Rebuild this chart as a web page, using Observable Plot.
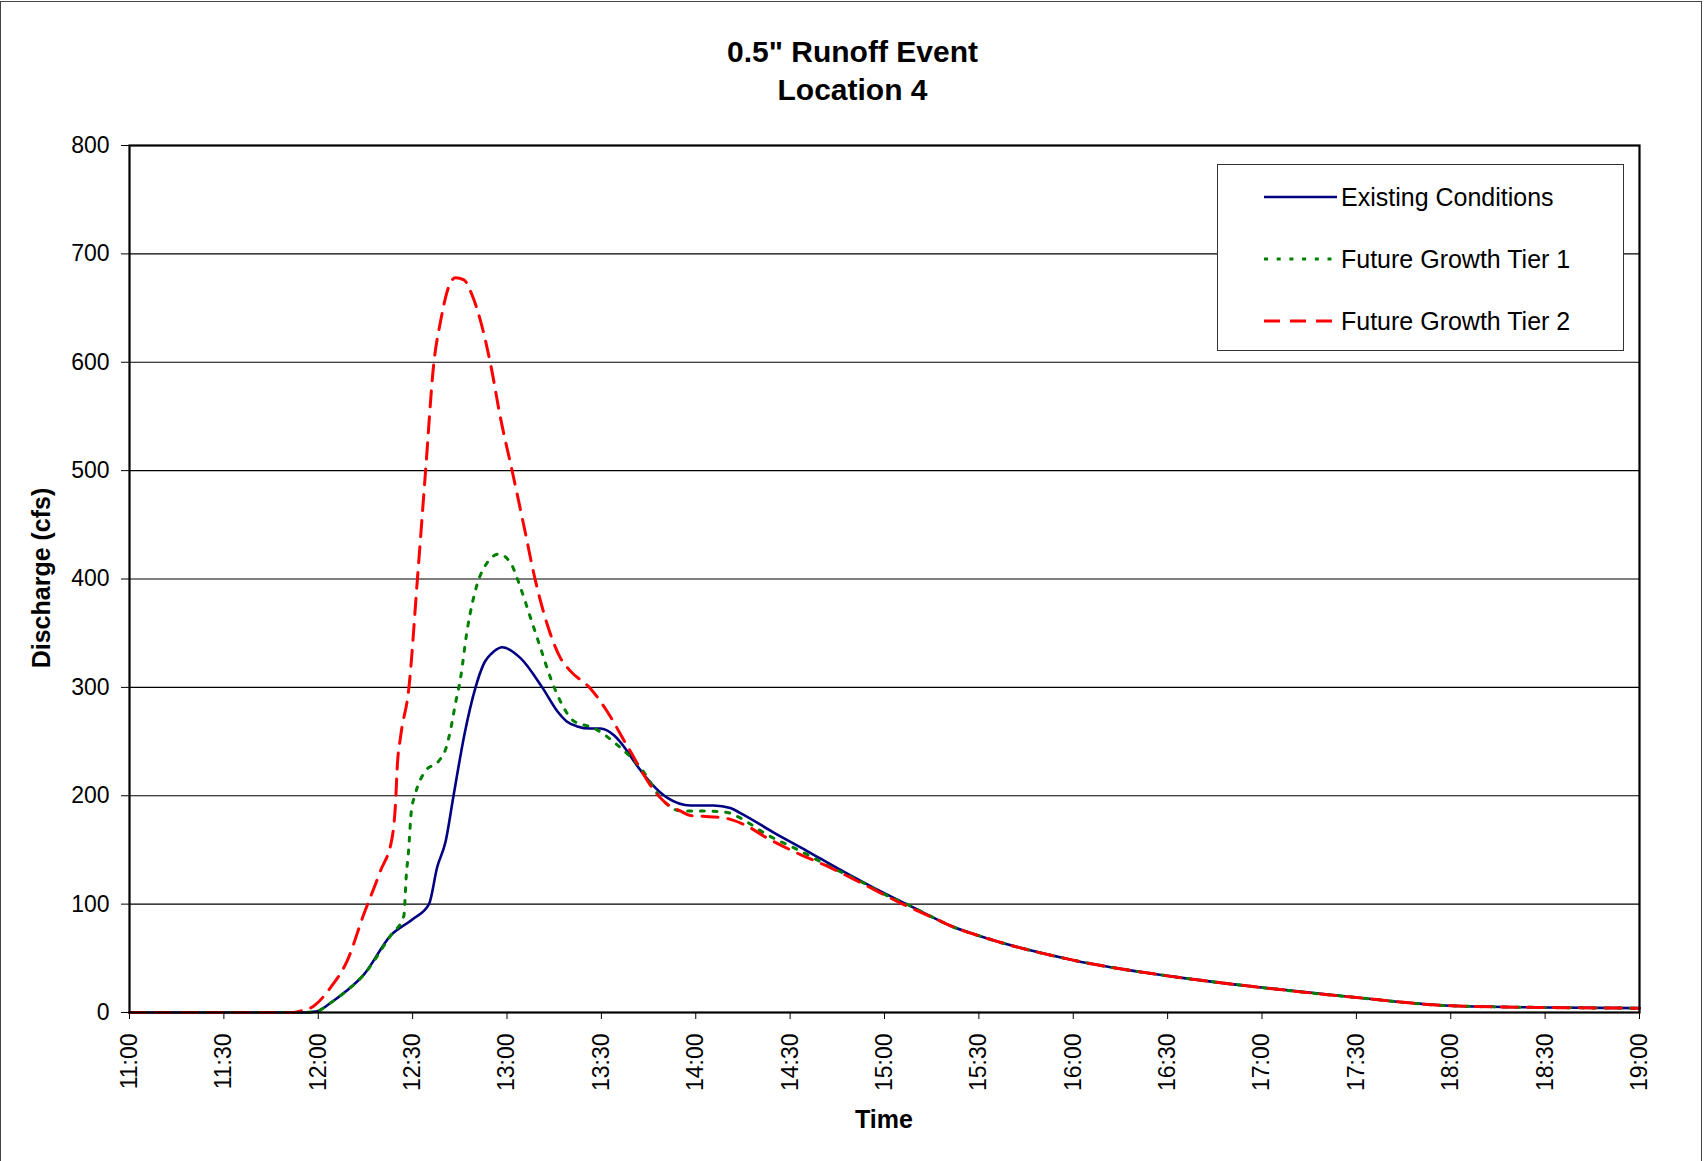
<!DOCTYPE html>
<html>
<head>
<meta charset="utf-8">
<script src="https://cdn.jsdelivr.net/npm/d3@7"></script>
<script src="https://cdn.jsdelivr.net/npm/@observablehq/plot@0.6"></script>
<style>
  html, body { margin: 0; padding: 0; background: #fff; }
  #wrap { position: relative; width: 1705px; height: 1161px; overflow: hidden; font-family: "Liberation Sans", Arial, sans-serif; }
  #border { position: absolute; left: 0; top: 1px; width: 1702px; height: 1300px; border: 1.5px solid #444; box-sizing: border-box; }
  #title { position: absolute; left: 0; top: 33px; width: 1705px; text-align: center; font-weight: bold; font-size: 30px; line-height: 38px; color: #000; }
  #ylabel { position: absolute; left: 41px; top: 578px; transform: translate(-50%, -50%) rotate(-90deg); font-weight: bold; font-size: 25px; white-space: nowrap; }
  #xlabel { position: absolute; left: 884px; top: 1119px; transform: translate(-50%, -50%); font-weight: bold; font-size: 25px; }
  #legend { position: absolute; left: 1217px; top: 164px; width: 407px; height: 187px; border: 1.2px solid #333; background: #fff; box-sizing: border-box; }
  .lg-row { position: absolute; left: 0; height: 30px; display: flex; align-items: center; font-size: 25px; }
  .lg-row svg { margin-left: 46px; margin-right: 4px; }
  #chart { position: absolute; left: 0; top: 0; }
</style>
</head>
<body>
<div id="wrap">
  <div id="border"></div>
  <div id="chart"></div>
  <div id="title"></div>
  <div id="ylabel"></div>
  <div id="xlabel"></div>
  <div id="legend"></div>
</div>
<script>
// ---- Data ----
const titleLines = ["0.5\" Runoff Event", "Location 4"];
const yLabel = "Discharge (cfs)";
const xLabel = "Time";
const seriesNames = ["Existing Conditions", "Future Growth Tier 1", "Future Growth Tier 2"];
const seriesColors = ["#000080", "#008000", "#ff0000"];
const yTicks = [0, 100, 200, 300, 400, 500, 600, 700, 800];
const xTickLabels = ["11:00","11:30","12:00","12:30","13:00","13:30","14:00","14:30","15:00","15:30","16:00","16:30","17:00","17:30","18:00","18:30","19:00"];

const tailTimes = ["15:17:48","15:21:00","15:30:00","16:00:00","16:30:00","17:00:00","17:30:00","18:00:00","18:30:00","19:00:00"];
const tailQ = [84.3, 80, 70.8, 48.3, 33.8, 23, 13.8, 6.2, 4.6, 4];

const existingTimes = ["11:00:00","11:55:00","11:58:00","12:00:00","12:04:00","12:09:00","12:14:30","12:23:00","12:30:00","12:35:12","12:37:48","12:40:30","12:43:00","12:46:30","12:50:00","12:52:30","12:55:48","12:58:30","13:04:18","13:11:12","13:16:00","13:19:00","13:22:18","13:26:30","13:29:42","13:33:54","13:38:00","13:40:18","13:51:00","13:58:18","14:05:42","14:11:00","14:14:12","14:24:48","14:35:24","14:46:00","14:56:36","15:07:12"];
const existingQ = [0,0,0.5,1.5,9,20,35,71,86,100,134,158,200,257,300,321,333,337,327,300,278,268.6,264,262,262,256,242,232,198,191,191,188.6,184,166,149,131.5,115,99.7];

const tier1Times = ["11:00:00","11:55:00","11:58:00","12:00:00","12:04:00","12:09:00","12:14:30","12:23:00","12:27:12","12:28:00","12:28:42","12:29:36","12:30:42","12:34:06","12:38:18","12:40:30","12:42:00","12:43:36","12:45:12","12:47:18","12:50:30","12:53:42","12:57:24","13:01:06","13:04:18","13:07:30","13:10:42","13:13:48","13:17:00","13:21:12","13:27:36","13:35:00","13:42:24","13:49:48","13:55:06","14:01:30","14:10:00","14:13:06","14:22:42","14:33:18","14:43:00","14:52:24","15:00:00","15:07:12"];
const tier1Q = [0,0,0.5,1.5,9,20,35,71,89,127,149,186,200,223,232,243,260,285,308,352,395,415,423,415,392,364,336,309,287,269,262.5,247,226,195,186,186,184.6,181,164,149,134,121,109,99.7];

const tier2Times = ["11:00:00","11:52:00","11:54:24","11:58:36","12:03:54","12:09:12","12:14:30","12:19:48","12:23:30","12:24:36","12:25:06","12:26:12","12:28:48","12:31:30","12:34:06","12:36:42","12:38:54","12:41:00","12:43:36","12:46:18","12:48:54","12:51:36","12:54:48","12:57:54","13:01:42","13:05:18","13:09:00","13:12:48","13:17:00","13:20:12","13:26:30","13:31:48","13:38:12","13:47:42","13:51:00","13:55:06","13:58:18","14:02:24","14:08:54","14:15:18","14:22:42","14:33:18","14:41:48","14:52:24","15:05:06"];
const tier2Q = [0,0,1.5,6,23,47.7,90.8,130.8,161.5,195,226,255,299,399,499,598,638,665.5,678,676,662,638,598,549,499,450,399,358,327,315,299,278,246,201.5,192,186,181.7,181,179.6,173.5,161,145.7,135,119.8,101];

// ---- Build ----
const parseT = d3.utcParse("%H:%M:%S");
const parseHM = d3.utcParse("%H:%M");
function build(times, q) {
  const rows = times.map((t, i) => ({time: parseT(t), q: q[i]}));
  tailTimes.forEach((t, i) => rows.push({time: parseT(t), q: tailQ[i]}));
  return rows;
}
const existing = build(existingTimes, existingQ);
const tier1 = build(tier1Times, tier1Q);
const tier2 = build(tier2Times, tier2Q);
const xTicks = xTickLabels.map(parseHM);

const dashes = [null, "4,8.7", "16,10"];
const widths = [2.6, 3, 3];

const chart = Plot.plot({
  width: 1705,
  height: 1161,
  marginLeft: 129,
  marginRight: 66,
  marginTop: 145,
  marginBottom: 149,
  style: {fontFamily: "'Liberation Sans', Arial, sans-serif", fontSize: "23px", color: "#000", background: "transparent"},
  x: {type: "utc", domain: [xTicks[0], xTicks[xTicks.length - 1]]},
  y: {domain: [0, 800]},
  marks: [
    Plot.gridY(yTicks, {stroke: "#000", strokeOpacity: 1, strokeWidth: 1.1}),
    Plot.line(existing, {x: "time", y: "q", stroke: seriesColors[0], strokeWidth: widths[0], curve: "monotone-x"}),
    Plot.line(tier1, {x: "time", y: "q", stroke: seriesColors[1], strokeWidth: widths[1], strokeDasharray: dashes[1], curve: "monotone-x"}),
    Plot.line(tier2, {x: "time", y: "q", stroke: seriesColors[2], strokeWidth: widths[2], strokeDasharray: dashes[2], curve: "monotone-x"}),
    Plot.frame({stroke: "#000", strokeWidth: 2.2}),
    Plot.axisY(yTicks, {tickSize: 8, tickPadding: 12, label: null, stroke: "#000"}),
    Plot.axisX(xTicks, {tickSize: 7, tickPadding: 14, tickRotate: -90, tickFormat: d3.utcFormat("%H:%M"), label: null, stroke: "#000"})
  ]
});
document.getElementById("chart").appendChild(chart);

document.getElementById("title").innerHTML = titleLines.map(s => s.replace(/"/g, "&quot;")).join("<br>");
document.getElementById("ylabel").textContent = yLabel;
document.getElementById("xlabel").textContent = xLabel;

const legend = document.getElementById("legend");
const rowTops = [17, 79, 141];
seriesNames.forEach((name, i) => {
  const row = document.createElement("div");
  row.className = "lg-row";
  row.style.top = rowTops[i] + "px";
  const ns = "http://www.w3.org/2000/svg";
  const svg = document.createElementNS(ns, "svg");
  svg.setAttribute("width", 73);
  svg.setAttribute("height", 10);
  const ln = document.createElementNS(ns, "line");
  ln.setAttribute("x1", 0); ln.setAttribute("x2", 73);
  ln.setAttribute("y1", 5); ln.setAttribute("y2", 5);
  ln.setAttribute("stroke", seriesColors[i]);
  ln.setAttribute("stroke-width", widths[i]);
  if (dashes[i]) ln.setAttribute("stroke-dasharray", dashes[i]);
  svg.appendChild(ln);
  row.appendChild(svg);
  const span = document.createElement("span");
  span.textContent = name;
  row.appendChild(span);
  legend.appendChild(row);
});
</script>
</body>
</html>
